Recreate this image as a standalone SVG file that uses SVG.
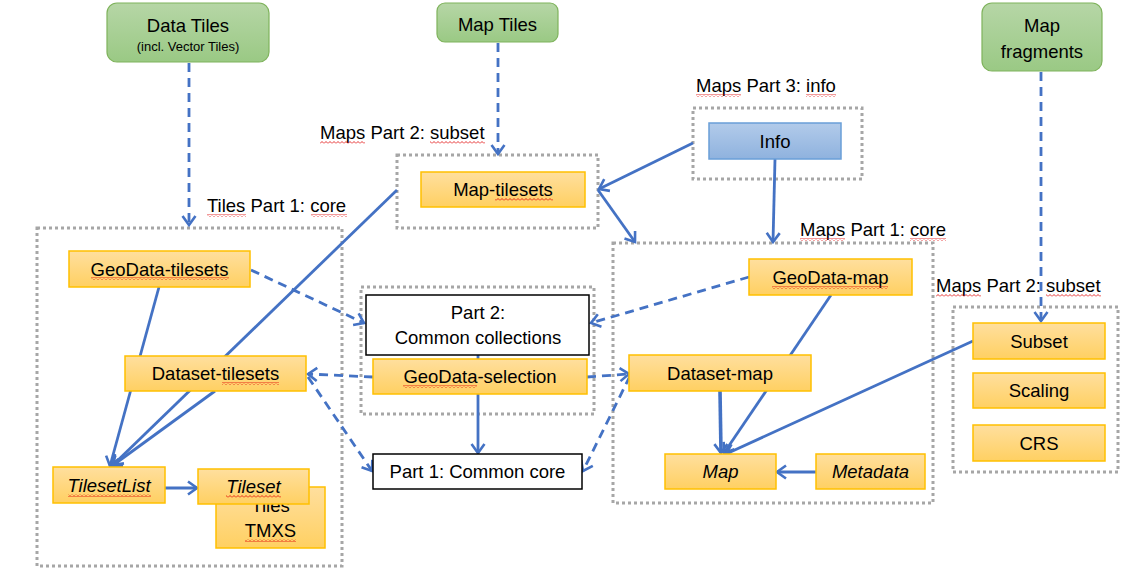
<svg xmlns="http://www.w3.org/2000/svg" width="1137" height="578" viewBox="0 0 1137 578">
<style>
.t{font-family:"Liberation Sans",Arial,sans-serif;font-size:18.5px;fill:#000;text-anchor:middle}
.s{font-size:13px}
.i{font-style:italic}
.lbl{font-family:"Liberation Sans",Arial,sans-serif;font-size:18.5px;fill:#000}
.cont{fill:none;stroke:#a6a6a6;stroke-width:3;stroke-dasharray:3 3}
.org{fill:url(#gO);stroke:#ffc000;stroke-width:1.5}
.grn{fill:url(#gG);stroke:#7fb35c;stroke-width:1.2}
.blu{fill:url(#gB);stroke:#6a9fd8;stroke-width:1.5}
.wht{fill:#fff;stroke:#000;stroke-width:1.5}
.c{fill:none;stroke:#4472c4;stroke-width:2.8;marker-end:url(#arr)}
.d{stroke-dasharray:9 6}
.sq{fill:url(#wave)}
</style>
<defs>
<linearGradient id="gO" x1="0" y1="0" x2="0" y2="1"><stop offset="0" stop-color="#ffdf9e"/><stop offset="1" stop-color="#ffd062"/></linearGradient>
<linearGradient id="gG" x1="0" y1="0" x2="0" y2="1"><stop offset="0" stop-color="#b6d6a6"/><stop offset="1" stop-color="#9ac984"/></linearGradient>
<linearGradient id="gB" x1="0" y1="0" x2="0" y2="1"><stop offset="0" stop-color="#b2cbea"/><stop offset="1" stop-color="#8fb2de"/></linearGradient>
<marker id="arr" viewBox="0 0 14 17" refX="11" refY="8.5" markerWidth="14" markerHeight="17" markerUnits="userSpaceOnUse" orient="auto">
<path d="M2,2 L11,8.5 L2,15" fill="none" stroke="#4472c4" stroke-width="2.6"/>
</marker>
<pattern id="wave" width="4" height="3" patternUnits="userSpaceOnUse">
<polyline points="0,2.5 2,0.5 4,2.5" fill="none" stroke="#e00000" stroke-width="0.8"/>
</pattern>
</defs>

<g id="containers">
<g id="tiles-core"><rect class="cont" x="37" y="228" width="305" height="338"/><text class="lbl" x="207" y="212">Tiles Part 1: core</text></g>
<g id="maps-subset-top"><rect class="cont" x="397" y="155" width="201" height="73"/><text class="lbl" x="320" y="139">Maps Part 2: subset</text></g>
<g id="common-part2"><rect class="cont" x="361" y="287" width="233" height="127"/></g>
<g id="maps-info"><rect class="cont" x="693" y="108" width="169" height="71"/><text class="lbl" x="696" y="92">Maps Part 3: info</text></g>
<g id="maps-core"><rect class="cont" x="613" y="243" width="320" height="260"/><text class="lbl" x="800" y="236">Maps Part 1: core</text></g>
<g id="maps-subset-right"><rect class="cont" x="953" y="307" width="165" height="165"/><text class="lbl" x="936" y="292">Maps Part 2: subset</text></g>
</g>

<g id="connectors">
<path class="c d" d="M189,63 L189,225"/>
<path class="c d" d="M498,43 L498,154"/>
<path class="c d" d="M1041,72 L1041,321"/>
<path class="c d" d="M251,270 L364,323"/>
<path class="c d" d="M749,277 L591,323"/>
<path class="c d" d="M373,377 L308,374"/>
<path class="c d" d="M587,377 L629,374"/>
<path class="c d" d="M308,377 L372,471"/>
<path class="c d" d="M630,376 L583,471"/>
<path class="c" d="M159,287 L110,466"/>
<path class="c" d="M215,391 L112,466"/>
<path class="c" d="M397,190 L113,465"/>
<path class="c" d="M163,488 L197,488"/>
<path class="c" d="M693,143 L599,189"/>
<path class="c" d="M598,190 L635,242"/>
<path class="c" d="M775,159 L773,242"/>
<path class="c" d="M478,355 L478,453"/>
<path class="c" d="M831,295 L724,453"/>
<path class="c" d="M720,391 L721,453" style="stroke-width:3.6"/>
<path class="c" d="M973,341 L726,454"/>
<path class="c" d="M816,472 L777,472"/>
</g>

<g id="data-tiles"><rect class="grn" x="107" y="3" width="162" height="59" rx="10"/><text class="t" x="188" y="31.5">Data Tiles</text><text class="t s" x="188" y="50.5">(incl. Vector Tiles)</text></g>
<g id="map-tiles"><rect class="grn" x="437" y="3" width="121" height="39" rx="8"/><text class="t" x="497.5" y="30.5">Map Tiles</text></g>
<g id="map-fragments"><rect class="grn" x="982" y="3" width="120" height="68" rx="10"/><text class="t" x="1042" y="32">Map</text><text class="t" x="1042" y="57.5">fragments</text></g>

<g id="geodata-tilesets"><rect class="org" x="69" y="251" width="181" height="36"/><text class="t" x="159.5" y="275.5">GeoData-tilesets</text></g>
<g id="dataset-tilesets"><rect class="org" x="125" y="356" width="181" height="35"/><text class="t" x="215.5" y="380">Dataset-tilesets</text></g>
<g id="tilesetlist"><rect class="org" x="53" y="467" width="112" height="36"/><text class="t i" x="109" y="491.5">TilesetList</text></g>
<g id="tiles-tmxs"><rect class="org" x="216" y="487" width="109" height="61"/><text class="t" x="270.5" y="511.5">Tiles</text><text class="t" x="270.5" y="536.5">TMXS</text></g>
<g id="tileset"><rect class="org" x="198" y="469" width="111" height="35"/><text class="t i" x="253.5" y="493">Tileset</text></g>
<g id="map-tilesets"><rect class="org" x="421" y="172" width="164" height="35"/><text class="t" x="503" y="196">Map-tilesets</text></g>
<g id="info"><rect class="blu" x="709" y="123" width="132" height="36"/><text class="t" x="775" y="147.5">Info</text></g>
<g id="part2-common"><rect class="wht" x="366" y="295" width="223" height="60"/><text class="t" x="478" y="318.5">Part 2:</text><text class="t" x="478" y="343.5">Common collections</text></g>
<g id="geodata-selection"><rect class="org" x="373" y="359" width="214" height="35"/><text class="t" x="480" y="383">GeoData-selection</text></g>
<g id="part1-common"><rect class="wht" x="373" y="454" width="209" height="35"/><text class="t" x="477.5" y="478">Part 1: Common core</text></g>
<g id="geodata-map"><rect class="org" x="749" y="259" width="163" height="36"/><text class="t" x="830.5" y="283.5">GeoData-map</text></g>
<g id="dataset-map"><rect class="org" x="629" y="355" width="182" height="36"/><text class="t" x="720" y="379.5">Dataset-map</text></g>
<g id="map"><rect class="org" x="665" y="454" width="111" height="35"/><text class="t i" x="720.5" y="478">Map</text></g>
<g id="metadata"><rect class="org" x="816" y="454" width="109" height="35"/><text class="t i" x="870.5" y="478">Metadata</text></g>
<g id="subset"><rect class="org" x="973" y="323" width="132" height="36"/><text class="t" x="1039" y="347.5">Subset</text></g>
<g id="scaling"><rect class="org" x="973" y="373" width="132" height="35"/><text class="t" x="1039" y="397">Scaling</text></g>
<g id="crs"><rect class="org" x="973" y="425" width="132" height="36"/><text class="t" x="1039" y="449.5">CRS</text></g>

<g id="spellcheck">
<rect class="sq" x="207" y="214" width="39" height="3"/>
<rect class="sq" x="311" y="214" width="36" height="3"/>
<rect class="sq" x="320" y="141" width="45" height="3"/>
<rect class="sq" x="430" y="141" width="55" height="3"/>
<rect class="sq" x="696" y="94" width="45" height="3"/>
<rect class="sq" x="806" y="94" width="30" height="3"/>
<rect class="sq" x="800" y="238" width="45" height="3"/>
<rect class="sq" x="910" y="238" width="36" height="3"/>
<rect class="sq" x="936" y="294" width="45" height="3"/>
<rect class="sq" x="1046" y="294" width="55" height="3"/>
<rect class="sq" x="91" y="277" width="138" height="3"/>
<rect class="sq" x="222" y="382" width="57" height="3"/>
<rect class="sq" x="68" y="494" width="83" height="3"/>
<rect class="sq" x="226" y="495" width="55" height="3"/>
<rect class="sq" x="245" y="539" width="51" height="3"/>
<rect class="sq" x="495" y="198" width="58" height="3"/>
<rect class="sq" x="403" y="385" width="74" height="3"/>
<rect class="sq" x="772" y="286" width="116" height="3"/>
</g>
</svg>
